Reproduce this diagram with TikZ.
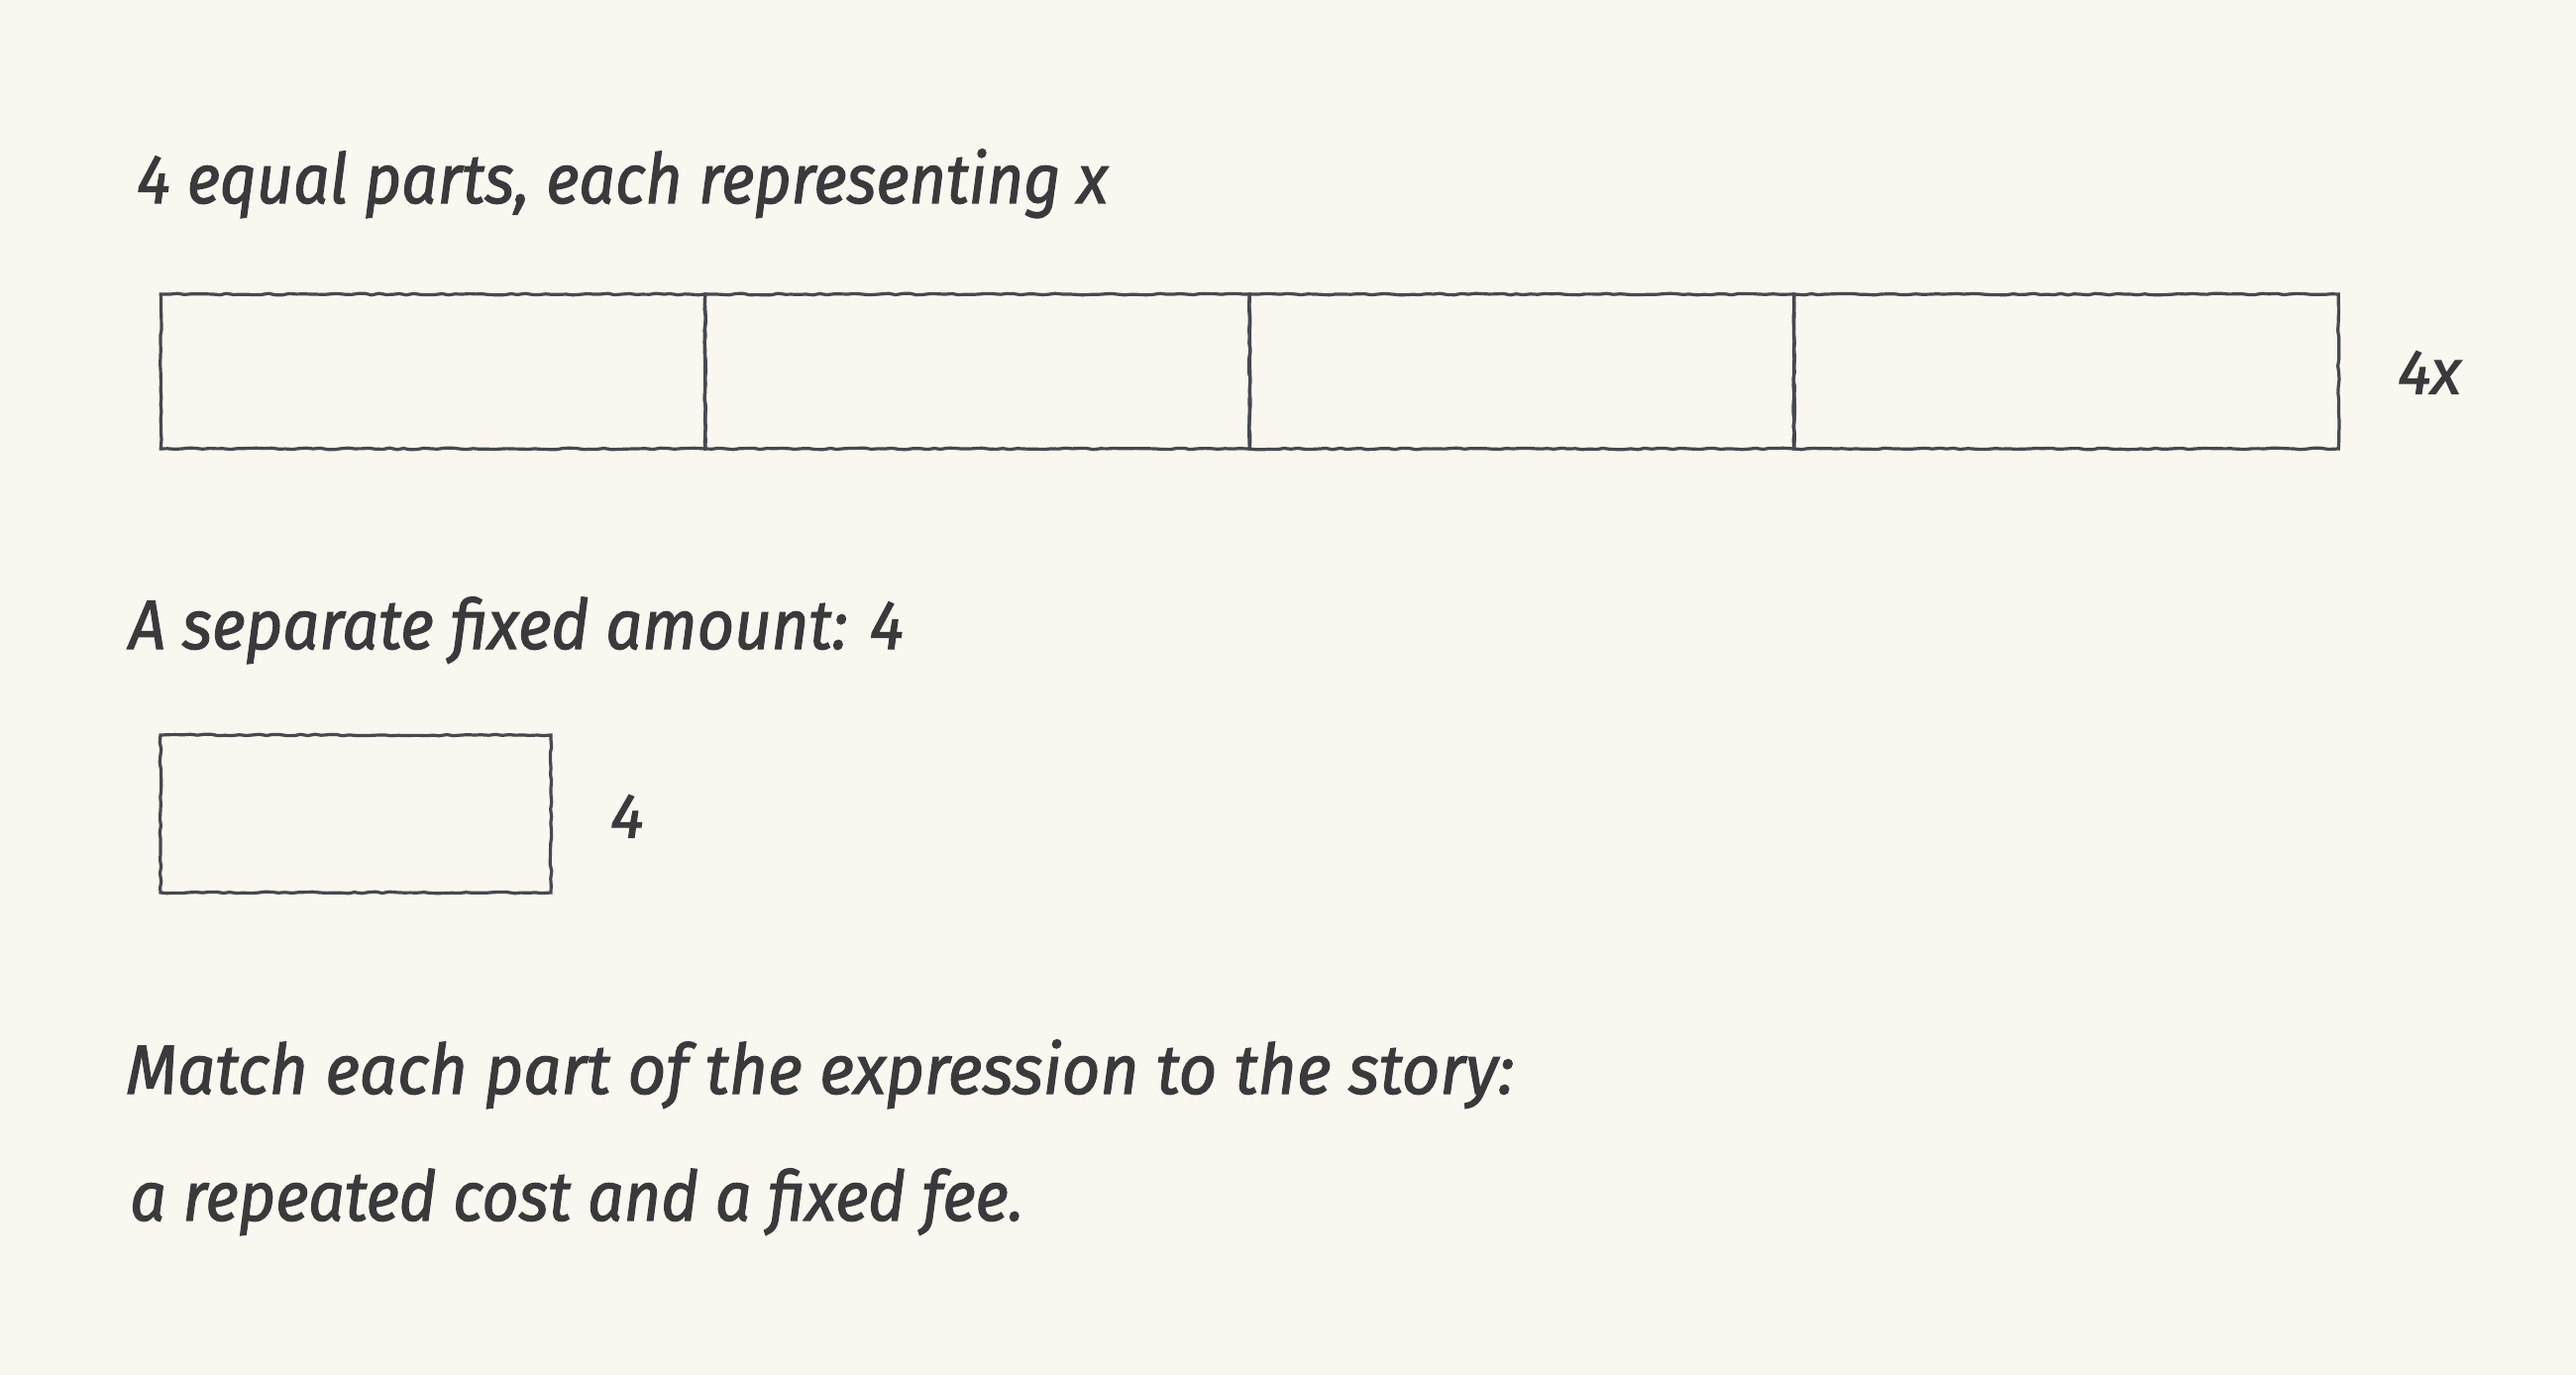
\documentclass[tikz,border=0pt]{standalone}
\usepackage{fontspec}
\setmainfont{Fira Sans}[ItalicFeatures={FakeBold=1.6}]
\usepackage{graphicx}
\usetikzlibrary{decorations.pathmorphing}
\definecolor{bgcream}{RGB}{249,247,240}
\definecolor{inkgray}{RGB}{58,58,60}
\definecolor{pencil}{RGB}{72,72,80}
\begin{document}
\begin{tikzpicture}[x=1pt,y=-1pt,
  sketchbox/.style={draw=pencil, line width=3.2pt, inner sep=0pt, outer sep=0pt,
    decorate, decoration={random steps, segment length=7pt, amplitude=0.8pt}},
  part/.style={sketchbox, minimum width=549.5pt, minimum height=156pt},
  lbl/.style={anchor=base west, inner sep=0pt, text=inkgray,
    font=\fontsize{70}{80}\selectfont\itshape},
  side/.style={inner sep=0pt, text=inkgray, font=\fontsize{64}{72}\selectfont\itshape}]
\pgfmathsetseed{7}
\fill[bgcream] (0,0) rectangle (2600,1388);
\useasboundingbox (0,0) rectangle (2600,1388);

\node[lbl] (t1) at (138,205) {\resizebox{980pt}{\height}{4 equal parts, each representing x}};

\node[part] (p1) at (437.0,375) {};
\node[part] (p2) at (986.5,375) {};
\node[part] (p3) at (1536.0,375) {};
\node[part] (p4) at (2085.5,375) {};
\node[side] (l4x) at (2452,376) {4x};

\node[lbl] (t2) at (130,655) {\resizebox{782pt}{\height}{A separate fixed amount: 4}};

\node[sketchbox, minimum width=394pt, minimum height=159pt] (fixed) at (359,821.5) {};
\node[side] (l4) at (633,824) {4};

\node[lbl] (t3) at (127,1104) {\resizebox{1401pt}{\height}{Match each part of the expression to the story:}};
\node[lbl] (t4) at (131,1232) {\resizebox{902pt}{\height}{a repeated cost and a fixed fee.}};
\end{tikzpicture}
\end{document}
